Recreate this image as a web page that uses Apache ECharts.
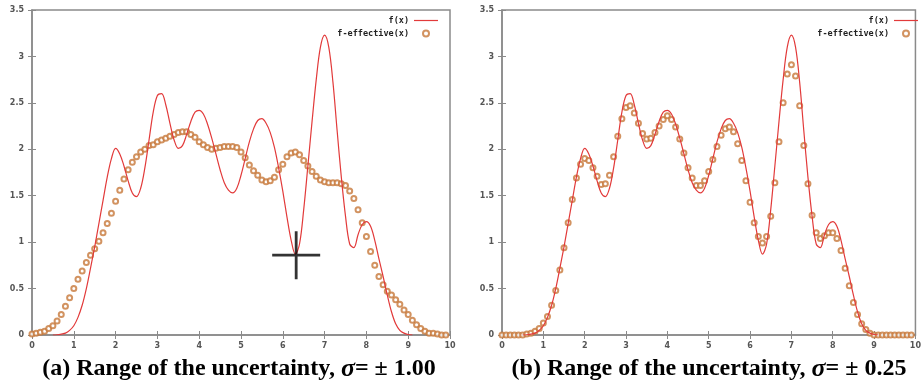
<!DOCTYPE html>
<html>
<head>
<meta charset="utf-8">
<script src="https://cdn.jsdelivr.net/npm/echarts@6/dist/echarts.min.js"></script>
<style>
  html, body { margin: 0; padding: 0; background: #fff; }
  #chart { width: 924px; height: 388px; }
</style>
</head>
<body>
<div id="chart"></div>
<script>
// sample grid, step 0.1
const xs = [
  0.0, 0.1, 0.2, 0.3, 0.4, 0.5, 0.6, 0.7, 0.8, 0.9,
  1.0, 1.1, 1.2, 1.3, 1.4, 1.5, 1.6, 1.7, 1.8, 1.9,
  2.0, 2.1, 2.2, 2.3, 2.4, 2.5, 2.6, 2.7, 2.8, 2.9,
  3.0, 3.1, 3.2, 3.3, 3.4, 3.5, 3.6, 3.7, 3.8, 3.9,
  4.0, 4.1, 4.2, 4.3, 4.4, 4.5, 4.6, 4.7, 4.8, 4.9,
  5.0, 5.1, 5.2, 5.3, 5.4, 5.5, 5.6, 5.7, 5.8, 5.9,
  6.0, 6.1, 6.2, 6.3, 6.4, 6.5, 6.6, 6.7, 6.8, 6.9,
  7.0, 7.1, 7.2, 7.3, 7.4, 7.5, 7.6, 7.7, 7.8, 7.9,
  8.0, 8.1, 8.2, 8.3, 8.4, 8.5, 8.6, 8.7, 8.8, 8.9,
  9.0, 9.1, 9.2, 9.3, 9.4, 9.5, 9.6, 9.7, 9.8, 9.9
];

// f(x), the red curve (null = not drawn)
const fValues = [
  null, null, null, null, null, 0.0, 0.003, 0.01, 0.02, 0.05,
  0.10, 0.19, 0.32, 0.50, 0.72, 0.95, 1.20, 1.45, 1.70, 1.90,
  2.01, 1.95, 1.82, 1.66, 1.53, 1.49, 1.58, 1.80, 2.10, 2.40,
  2.58, 2.60, 2.48, 2.28, 2.10, 2.01, 2.04, 2.16, 2.30, 2.40,
  2.42, 2.38, 2.27, 2.12, 1.95, 1.78, 1.64, 1.56, 1.53, 1.58,
  1.72, 1.90, 2.08, 2.22, 2.31, 2.33, 2.28, 2.18, 2.02, 1.80,
  1.55, 1.27, 1.02, 0.87, 0.98, 1.35, 1.82, 2.30, 2.75, 3.10,
  3.23, 3.10, 2.72, 2.20, 1.70, 1.28, 0.98, 0.94, 1.08, 1.19,
  1.22, 1.17, 1.02, 0.82, 0.63, 0.43, 0.25, 0.12, 0.05, 0.02,
  0.005, 0.0, null, null, null, null, null, null, null, null
];

// f-effective(x), sigma = 1.00
const effWide = [
  0.01, 0.02, 0.03, 0.04, 0.07, 0.10, 0.15, 0.22, 0.31, 0.40,
  0.50, 0.60, 0.69, 0.78, 0.86, 0.93, 1.01, 1.10, 1.20, 1.31,
  1.44, 1.56, 1.68, 1.78, 1.86, 1.92, 1.97, 2.00, 2.04, 2.05,
  2.08, 2.10, 2.12, 2.14, 2.16, 2.18, 2.19, 2.19, 2.16, 2.13,
  2.08, 2.05, 2.02, 2.00, 2.01, 2.02, 2.03, 2.03, 2.03, 2.02,
  1.97, 1.91, 1.83, 1.77, 1.72, 1.67, 1.65, 1.66, 1.70, 1.78,
  1.84, 1.92, 1.96, 1.97, 1.94, 1.88, 1.82, 1.76, 1.71, 1.67,
  1.65, 1.64, 1.64, 1.64, 1.63, 1.61, 1.55, 1.47, 1.35, 1.21,
  1.06, 0.90, 0.75, 0.63, 0.54, 0.47, 0.43, 0.38, 0.33, 0.27,
  0.22, 0.16, 0.11, 0.07, 0.04, 0.02, 0.02, 0.01, 0.00, 0.00
];

// f-effective(x), sigma = 0.25
const effNarrow = [
  0.00, 0.00, 0.00, 0.00, 0.00, 0.00, 0.01, 0.02, 0.04, 0.07,
  0.13, 0.20, 0.32, 0.48, 0.70, 0.94, 1.21, 1.46, 1.69, 1.84,
  1.90, 1.88, 1.80, 1.71, 1.62, 1.63, 1.72, 1.92, 2.14, 2.33,
  2.45, 2.47, 2.39, 2.28, 2.17, 2.11, 2.12, 2.18, 2.25, 2.32,
  2.36, 2.32, 2.24, 2.11, 1.96, 1.80, 1.69, 1.61, 1.61, 1.66,
  1.76, 1.89, 2.03, 2.15, 2.22, 2.24, 2.19, 2.06, 1.88, 1.66,
  1.43, 1.21, 1.06, 0.99, 1.06, 1.28, 1.64, 2.08, 2.50, 2.81,
  2.91, 2.79, 2.47, 2.04, 1.63, 1.29, 1.10, 1.04, 1.07, 1.10,
  1.10, 1.04, 0.91, 0.72, 0.53, 0.35, 0.22, 0.12, 0.06, 0.02,
  0.00, 0.00, 0.00, 0.00, 0.00, 0.00, 0.00, 0.00, 0.00, 0.00
];

// crosshair marked on the left plot
const crossPoint = [6.32, 0.86];

const captions = [
  "(a) Range of the uncertainty, {s|σ}= ± 1.00",
  "(b) Range of the uncertainty, {s|σ}= ± 0.25"
];

const pairs = (ys) => xs.map((x, i) => [x, ys[i]]);

const RED = "#e23a3a";
const DOT = "#c7783a";
const FRAME = "#8a8a8a";
const tickFont = { fontFamily: "DejaVu Sans", fontWeight: "bold", fontSize: 8, color: "#555" };
// thin line used as the legend key of f(x)
const LINE_ICON = "path://M0,0M0,6M0,2.4H24V3.6H0Z";

const panels = [
  { left: 32, eff: effWide, legendRight: 924 - 443, caption: captions[0], cx: 234 },
  { left: 502, eff: effNarrow, legendRight: 924 - 923, caption: captions[1], cx: 704 },
];

const grid = [], xAxis = [], yAxis = [], series = [], legend = [], title = [];

panels.forEach((p, g) => {
  grid.push({
    left: p.left, top: 10, width: 418, height: 325,
    show: true, borderColor: FRAME, borderWidth: 1.5, backgroundColor: "transparent",
  });
  const tick = { show: true, inside: true, length: 4, lineStyle: { color: FRAME, width: 1 } };
  // bottom + top x axes
  xAxis.push({
    type: "value", gridIndex: g, min: 0, max: 10, interval: 1, position: "bottom",
    axisLine: { show: true, onZero: false, lineStyle: { color: FRAME, width: 1.5 } },
    axisTick: tick, splitLine: { show: false },
    axisLabel: Object.assign({ margin: 7 }, tickFont),
  });
  xAxis.push({
    type: "value", gridIndex: g, min: 0, max: 10, interval: 1, position: "top",
    axisLine: { show: false }, axisTick: tick, splitLine: { show: false },
    axisLabel: { show: false },
  });
  // left + right y axes
  yAxis.push({
    type: "value", gridIndex: g, min: 0, max: 3.5, interval: 0.5, position: "left",
    axisLine: { show: true, onZero: false, lineStyle: { color: FRAME, width: 1.5 } },
    axisTick: tick, splitLine: { show: false },
    axisLabel: Object.assign({ margin: 8 }, tickFont),
  });
  yAxis.push({
    type: "value", gridIndex: g, min: 0, max: 3.5, interval: 0.5, position: "right",
    axisLine: { show: false }, axisTick: tick, splitLine: { show: false },
    axisLabel: { show: false },
  });

  series.push({
    name: "f(x)", type: "line", xAxisIndex: g * 2, yAxisIndex: g * 2,
    data: pairs(fValues), smooth: 0.35, symbol: "none", connectNulls: false,
    lineStyle: { color: RED, width: 1.2 }, itemStyle: { color: RED },
  });
  series.push({
    name: "f-effective(x)", type: "scatter", xAxisIndex: g * 2, yAxisIndex: g * 2,
    data: pairs(p.eff), symbol: "emptyCircle", symbolSize: 5,
    itemStyle: { color: DOT, borderColor: DOT, borderWidth: 1.4 },
  });

  legend.push({
    right: p.legendRight, top: 11, orient: "vertical", align: "right",
    itemWidth: 24, itemHeight: 6, itemGap: 4, selectedMode: false,
    data: [
      { name: "f(x)", icon: LINE_ICON, itemStyle: { color: RED } },
      { name: "f-effective(x)" },
    ],
    textStyle: { fontFamily: "DejaVu Sans Mono", fontWeight: "bold", fontSize: 8.5, color: "#222" },
  });

  title.push({
    text: p.caption, left: p.cx, top: 351, textAlign: "center",
    textStyle: {
      fontFamily: "Liberation Serif", fontWeight: "bold", fontSize: 24, color: "#000",
      rich: { s: { fontFamily: "Liberation Serif", fontStyle: "italic", fontWeight: "bold", fontSize: 26, color: "#000" } },
    },
  });
});

series.push({
  name: "cross", type: "scatter", xAxisIndex: 0, yAxisIndex: 0,
  data: [crossPoint], silent: true, z: 5,
  symbol: "path://M0,22.6H48V25.4H0Z M22.6,0H25.4V48H22.6Z", symbolSize: 48,
  itemStyle: { color: "#000" },
});

const chart = echarts.init(document.getElementById("chart"), null, { renderer: "canvas" });
chart.setOption({ animation: false, backgroundColor: "#fff", grid, xAxis, yAxis, series, legend, title });
</script>
</body>
</html>
